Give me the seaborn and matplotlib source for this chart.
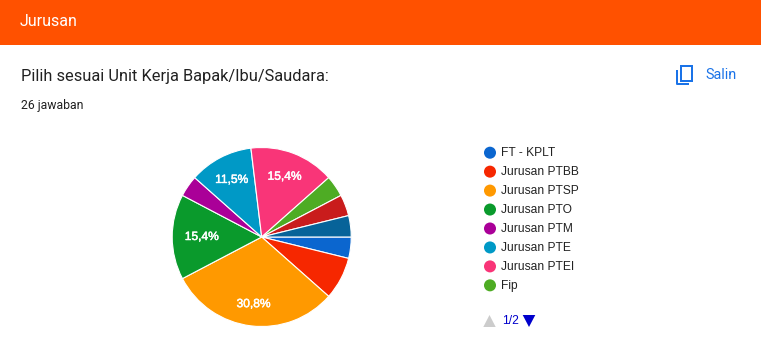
import matplotlib
matplotlib.use('Agg')
import matplotlib.pyplot as plt
import matplotlib.patheffects as pe
from matplotlib.patches import Rectangle, Polygon
import pandas as pd
import seaborn as sns

# jumlah jawaban per jurusan (26 total), dua irisan terakhir ada di halaman 2 legenda
slice_counts = [1, 2, 8, 4, 1, 3, 4, 1, 1, 1]
slice_colors = ['#0b66cf', '#f62700', '#ff9900', '#0a9a2c', '#aa0098',
                '#0099c6', '#f93578', '#4eac24', '#c91c1c', '#076399']
legend_labels = ['FT - KPLT', 'Jurusan PTBB', 'Jurusan PTSP', 'Jurusan PTO',
                 'Jurusan PTM', 'Jurusan PTE', 'Jurusan PTEI', 'Fip']

header_title = 'Jurusan'
question = 'Pilih sesuai Unit Kerja Bapak/Ibu/Saudara:'
answers = '26 jawaban'
copy_label = 'Salin'
page_label = '1/2'

sns.set_theme(style='white')
W, H = 761, 358
fig = plt.figure(figsize=(W / 100, H / 100), dpi=100, facecolor='white')

# kanvas dalam piksel untuk header dan teks
bg = fig.add_axes([0, 0, 1, 1])
bg.set_xlim(0, W)
bg.set_ylim(H, 0)
bg.axis('off')

bg.add_patch(Rectangle((0, 0), W, 45, color='#ff5100', lw=0))
bg.text(20, 21, header_title, color='white', family='Roboto', fontsize=11.5, va='center')
bg.text(21, 76, question, color='#212121', family='Roboto', fontsize=11.8, va='center')
bg.text(21, 105, answers, color='#212121', family='Roboto', fontsize=8.8, va='center')
bg.text(705, 75, copy_label, color='#1a73e8', family='Roboto', fontsize=10.4, va='center')

# ikon salin
blue = '#1a73e8'
bg.add_patch(Rectangle((681, 66), 11, 14.5, fill=False, ec=blue, lw=1.44))
bg.plot([677, 677, 689], [70, 84, 84], color=blue, lw=1.44, solid_capstyle='butt')

# legenda: titik lewat seaborn
legend_df = pd.DataFrame({
    'x': [490.0] * len(legend_labels),
    'y': [152.7 + 18.95 * i for i in range(len(legend_labels))],
    'label': legend_labels,
})
sns.scatterplot(data=legend_df, x='x', y='y', hue='label', hue_order=legend_labels,
                palette=slice_colors[:len(legend_labels)], s=75, linewidth=0,
                legend=False, ax=bg)
bg.set_xlim(0, W)
bg.set_ylim(H, 0)
for _, row in legend_df.iterrows():
    bg.text(501, row['y'] + 0.3, row['label'], color='#222222', family='Liberation Sans',
            fontsize=8.64, va='center')

# navigasi halaman legenda
bg.add_patch(Polygon([(483.3, 327), (495.7, 327), (489.5, 315)], color='#cccccc', lw=0))
bg.add_patch(Polygon([(522.7, 315), (535.3, 315), (529, 327)], color='#0000cc', lw=0))
bg.text(502.5, 321, page_label, color='#0000cc', family='Liberation Sans', fontsize=8.64, va='center')

# pie
cx, cy, r = 261.7, 237.0, 89.5
ax = fig.add_axes([(cx - r) / W, 1 - (cy + r) / H, 2 * r / W, 2 * r / H])


def pct_label(p):
    # irisan kecil tidak diberi label
    if p < 10:
        return ''
    return f'{p:.1f}%'.replace('.', ',')


wedges, texts, autotexts = ax.pie(slice_counts, colors=slice_colors, startangle=0, counterclock=False,
                                  radius=1, autopct=pct_label, pctdistance=0.72,
                                  wedgeprops={'edgecolor': 'white', 'linewidth': 0.8})
for t in autotexts:
    t.set_color('white')
    t.set_family('Liberation Sans')
    t.set_fontsize(8.64)
    t.set_path_effects([pe.withStroke(linewidth=0.35, foreground='white')])

# label PTSP agak keluar, label PTO agak masuk
for i, k in [(2, 1.05), (3, 0.93)]:
    x0, y0 = autotexts[i].get_position()
    autotexts[i].set_position((x0 * k, y0 * k))

ax.set_xlim(-1, 1)
ax.set_ylim(-1, 1)

fig.savefig('out.png', dpi=100)
